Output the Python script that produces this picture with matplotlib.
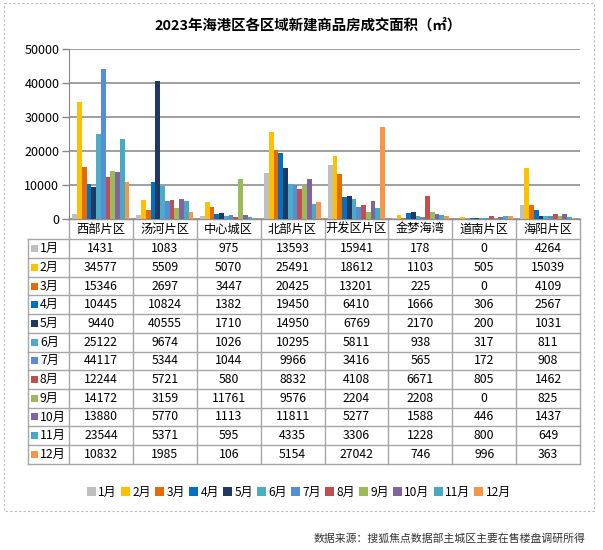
import matplotlib
matplotlib.use("Agg")
import matplotlib.pyplot as plt
import matplotlib.transforms as mtrans
from matplotlib.patches import Rectangle
import numpy as np

plt.rcParams['font.family'] = ['Noto Sans CJK SC', 'DejaVu Sans']

# data
areas = ['西部片区', '汤河片区', '中心城区', '北部片区', '开发区片区', '金梦海湾', '道南片区', '海阳片区']
months = ['1月', '2月', '3月', '4月', '5月', '6月', '7月', '8月', '9月', '10月', '11月', '12月']
values = [
    [1431, 1083, 975, 13593, 15941, 178, 0, 4264],
    [34577, 5509, 5070, 25491, 18612, 1103, 505, 15039],
    [15346, 2697, 3447, 20425, 13201, 225, 0, 4109],
    [10445, 10824, 1382, 19450, 6410, 1666, 306, 2567],
    [9440, 40555, 1710, 14950, 6769, 2170, 200, 1031],
    [25122, 9674, 1026, 10295, 5811, 938, 317, 811],
    [44117, 5344, 1044, 9966, 3416, 565, 172, 908],
    [12244, 5721, 580, 8832, 4108, 6671, 805, 1462],
    [14172, 3159, 11761, 9576, 2204, 2208, 0, 825],
    [13880, 5770, 1113, 11811, 5277, 1588, 446, 1437],
    [23544, 5371, 595, 4335, 3306, 1228, 800, 649],
    [10832, 1985, 106, 5154, 27042, 746, 996, 363],
]
colors = ['#BFBFBF', '#FFC000', '#E36C09', '#0070C0', '#1F3864', '#4BACC6',
          '#558ED5', '#C0504D', '#9BBB59', '#8064A2', '#46AAC5', '#F79646']

W, H = 603, 550
fig = plt.figure(figsize=(W / 100, H / 100), dpi=100)

# overlay in pixel coords (y down)
ov = fig.add_axes([0, 0, 1, 1])
ov.set_xlim(0, W)
ov.set_ylim(H, 0)
ov.axis('off')

ax_left, ax_right, ax_top, ax_bot = 69, 580, 49.3, 219
ax = fig.add_axes([ax_left / W, 1 - ax_bot / H, (ax_right - ax_left) / W, (ax_bot - ax_top) / H])
ax.set_zorder(2)
ax.patch.set_alpha(0)

n = len(months)
x = np.arange(len(areas))
bw = 0.893 / n
handles = []
for i, m in enumerate(months):
    b = ax.bar(x - 0.893 / 2 + bw * (i + 0.5), values[i], width=bw, color=colors[i], label=m, zorder=3)
    handles.append(b)

ax.set_xlim(-0.5, len(areas) - 0.5)
ax.set_ylim(0, 50000)
ax.set_yticks(range(0, 50001, 10000))
ax.tick_params(axis='y', labelsize=9, length=5, color='#888888', width=1, pad=2)
ax.tick_params(axis='x', length=0, labelbottom=False)
ax.yaxis.grid(True, color='#858585', lw=1.1)
ax.set_axisbelow(True)
for s in ['top', 'right', 'bottom']:
    ax.spines[s].set_visible(False)
ax.spines['left'].set_color('#888888')

# table below the axes: x in data coords, y in pixels
tr = mtrans.blended_transform_factory(ax.transData, ov.transData)
line_c = '#A6A6A6'
row0, row_h = 239.3, 18.7
tab_left, tab_right = 27.7, ax_right
tab_bot = row0 + n * row_h

# header row
ov.plot([ax_left, ax_right], [ax_bot, ax_bot], color='#8c8c8c', lw=1, zorder=4)
for j, a in enumerate(areas):
    ov.text(j, (ax_bot + row0) / 2, a, transform=tr, ha='center', va='center', fontsize=8.8, color='#000000')
for j in range(len(areas) + 1):
    ov.plot([j - 0.5, j - 0.5], [ax_bot, tab_bot], transform=tr, color=line_c, lw=1)
ov.plot([tab_left, tab_left], [row0, tab_bot], color=line_c, lw=1)
for r in range(n + 1):
    yy = row0 + r * row_h
    ov.plot([tab_left, tab_right], [yy, yy], color=line_c, lw=1)

for i, m in enumerate(months):
    yc = row0 + (i + 0.5) * row_h
    ov.add_patch(Rectangle((31, yc - 3.5), 7, 7, color=colors[i], lw=0))
    ov.text(40, yc, m, ha='left', va='center', fontsize=8.8, color='#000000')
    for j in range(len(areas)):
        ov.text(j, yc, str(values[i][j]), transform=tr, ha='center', va='center', fontsize=8.8, color='#000000')

# title
ov.text(W / 2 + 7, 25, '2023年海港区各区域新建商品房成交面积（㎡）', ha='center', va='center',
        fontsize=10.4, fontweight='bold', color='#000000')

# legend
fig.legend(handles=handles, labels=months, loc='center', bbox_to_anchor=(299 / W, 1 - 492 / H),
           ncol=12, frameon=False, fontsize=8.6, handlelength=0.75, handleheight=0.75,
           handletextpad=0.2, columnspacing=0.35, borderaxespad=0)

# outer dashed frame
ov.add_patch(Rectangle((4, 3), 590, 508, fill=False, ls=(0, (2, 2)), lw=0.8, edgecolor='#BBBBBB'))

# source note
ov.text(585, 538, '数据来源：搜狐焦点数据部主城区主要在售楼盘调研所得', ha='right', va='center',
        fontsize=7.8, color='#333333')

fig.savefig('out.png', dpi=100)
